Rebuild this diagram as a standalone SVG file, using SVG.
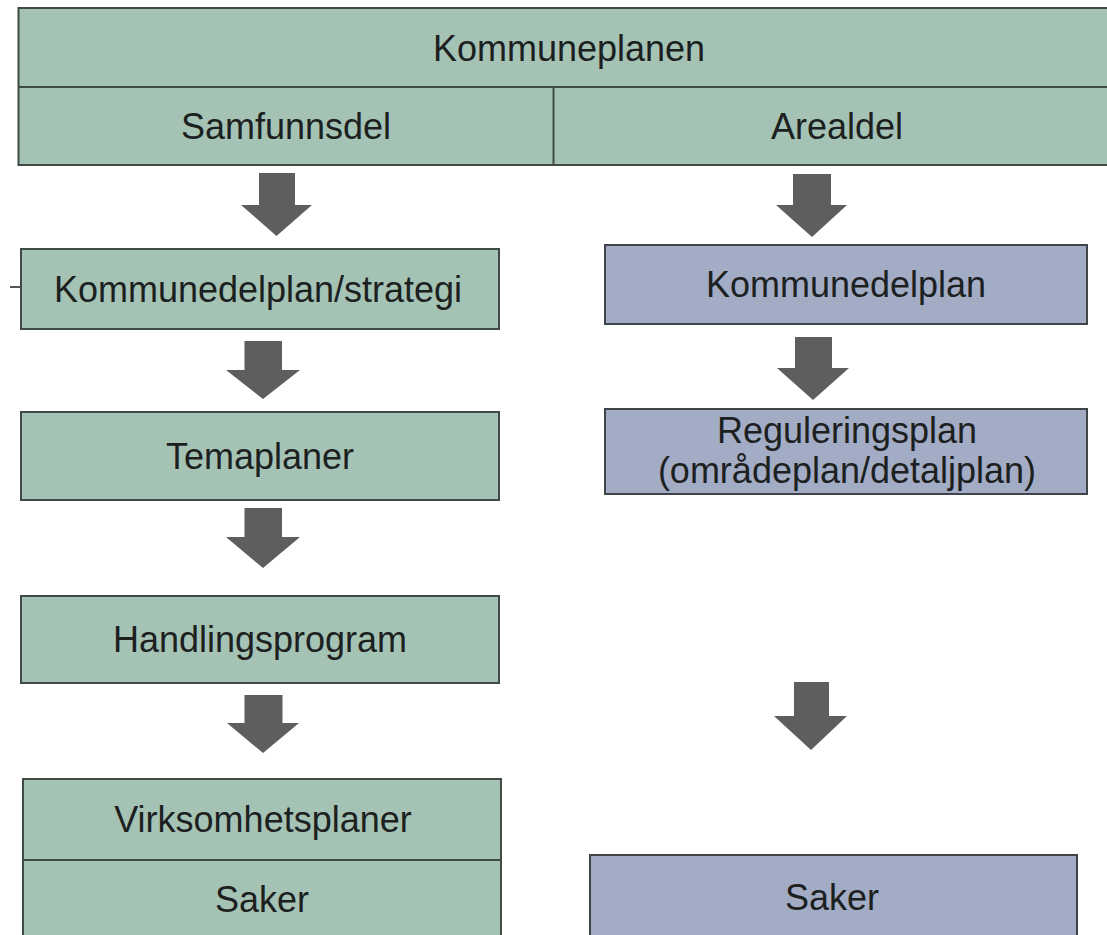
<svg xmlns="http://www.w3.org/2000/svg" width="1107" height="935" viewBox="0 0 1107 935">
<style>
.g{fill:#a5c3b5;stroke:#3f4a45;stroke-width:2}
.b{fill:#a3acc5;stroke:#3f4448;stroke-width:2}
.ln{stroke:#3f4a45;stroke-width:2;fill:none}
.t{font-family:"Liberation Sans",Arial,sans-serif;font-size:36px;fill:#1c211f;text-anchor:middle}
.ar{fill:#5e5e5e}
</style>
<rect width="1107" height="935" fill="#ffffff"/>
<g id="kommuneplanen">
<rect class="g" x="18.5" y="8" width="1102" height="157"/>
<line class="ln" x1="18.5" y1="87" x2="1120.5" y2="87"/>
<line class="ln" x1="553.5" y1="87" x2="553.5" y2="165"/>
<text class="t" x="569" y="61">Kommuneplanen</text>
<text class="t" x="286" y="139">Samfunnsdel</text>
<text class="t" x="837" y="139">Arealdel</text>
</g>
<g id="kommunedelplan-strategi">
<line x1="10" y1="287" x2="21" y2="287" stroke="#555" stroke-width="2"/>
<rect class="g" x="21" y="249" width="478" height="80"/>
<text class="t" x="258" y="302">Kommunedelplan/strategi</text>
</g>
<g id="temaplaner">
<rect class="g" x="21" y="412" width="478" height="88"/>
<text class="t" x="260" y="469">Temaplaner</text>
</g>
<g id="handlingsprogram">
<rect class="g" x="21" y="596" width="478" height="87"/>
<text class="t" x="260" y="652">Handlingsprogram</text>
</g>
<g id="virksomhetsplaner">
<rect class="g" x="23" y="779" width="478" height="170"/>
<line class="ln" x1="23" y1="860" x2="501" y2="860"/>
<text class="t" x="263" y="832">Virksomhetsplaner</text>
<text class="t" x="262" y="912">Saker</text>
</g>
<g id="kommunedelplan">
<rect class="b" x="605" y="245" width="482" height="79"/>
<text class="t" x="846" y="297">Kommunedelplan</text>
</g>
<g id="reguleringsplan">
<rect class="b" x="605" y="409" width="482" height="85"/>
<text class="t" x="847" y="443">Reguleringsplan</text>
<text class="t" x="847" y="483">(områdeplan/detaljplan)</text>
</g>
<g id="saker-right">
<rect class="b" x="590" y="855" width="487" height="95"/>
<text class="t" x="832" y="910">Saker</text>
</g>
<g id="connectors">
<polygon class="ar" points="259,173 295,173 295,205 312,205 276.5,236 241,205 259,205"/>
<polygon class="ar" points="244.5,341 282,341 282,370 300,370 263,399 226,370 244.5,370"/>
<polygon class="ar" points="244.5,508 282,508 282,537 300,537 263,568 226,537 244.5,537"/>
<polygon class="ar" points="244.5,695 282.5,695 282.5,723 299,723 263,753 227,723 244.5,723"/>
<polygon class="ar" points="793,174 831,174 831,205 847,205 812,237 776,205 793,205"/>
<polygon class="ar" points="795,337 832,337 832,368 849,368 813,400 777,368 795,368"/>
<polygon class="ar" points="794,682 829,682 829,716 847,716 811,750 774,716 794,716"/>
</g>
</svg>
